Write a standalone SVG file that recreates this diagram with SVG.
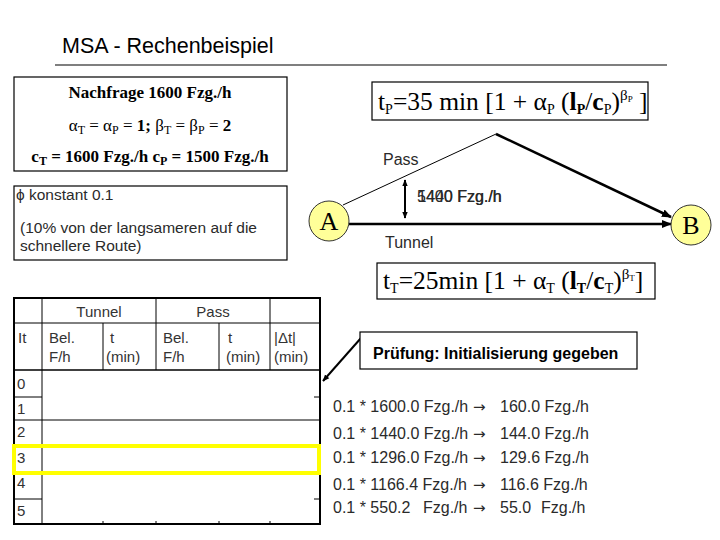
<svg xmlns="http://www.w3.org/2000/svg" width="720" height="540" viewBox="0 0 720 540">
<style>
.sans{font-family:"Liberation Sans",Arial,sans-serif;}
.serif{font-family:"Liberation Serif","Times New Roman",serif;}
.box{fill:#fff;stroke:#000;stroke-width:1.2;}
.gray{fill:#2a2a2a;}
.sub{font-size:12px;}
.fsub{font-size:14px;}
.tiny{font-size:9px;}
.node circle{fill:#ffff99;stroke:#333;stroke-width:1;}
.node text{font-family:"Liberation Serif","Times New Roman",serif;font-size:26px;text-anchor:middle;fill:#000;}
.grid{stroke:#000;stroke-width:1;}
.tt{font-family:"Liberation Sans",Arial,sans-serif;font-size:15px;fill:#333;}
.calc{font-family:"Liberation Sans",Arial,sans-serif;font-size:16px;fill:#2a2a2a;}
.arr{font-family:"DejaVu Sans",sans-serif;font-size:15px;}
</style>
<defs>
<marker id="ah" viewBox="0 0 10 10" refX="9" refY="5" markerWidth="10" markerHeight="10" markerUnits="userSpaceOnUse" orient="auto-start-reverse">
<path d="M0,1 L10,5 L0,9 z" fill="#000"/>
</marker>
<marker id="ahs" viewBox="0 0 10 10" refX="9" refY="5" markerWidth="7" markerHeight="7" markerUnits="userSpaceOnUse" orient="auto-start-reverse">
<path d="M0,1 L10,5 L0,9 z" fill="#000"/>
</marker>
</defs>
<rect width="720" height="540" fill="#fff"/>

<g id="title">
<text x="62" y="53" class="sans" font-size="21.5">MSA - Rechenbeispiel</text>
<line x1="55" y1="65" x2="667" y2="65" stroke="#000" stroke-width="1.2"/>
</g>

<g id="given">
<rect x="14" y="77" width="273" height="94" class="box"/>
<text x="150" y="98" class="serif" font-size="17" font-weight="bold" text-anchor="middle">Nachfrage 1600 Fzg./h</text>
<text x="150" y="131" class="serif" font-size="17" text-anchor="middle">α<tspan class="sub" dy="3">T</tspan><tspan dy="-3"> = α</tspan><tspan class="sub" dy="3">P</tspan><tspan dy="-3"> = </tspan><tspan font-weight="bold">1;</tspan><tspan>  β</tspan><tspan class="sub" dy="3">T</tspan><tspan dy="-3"> = β</tspan><tspan class="sub" dy="3">P</tspan><tspan dy="-3"> = </tspan><tspan font-weight="bold">2</tspan></text>
<text x="150" y="162" class="serif" font-size="17" font-weight="bold" text-anchor="middle">c<tspan class="sub" dy="3">T</tspan><tspan dy="-3"> = 1600 Fzg./h c</tspan><tspan class="sub" dy="3">P</tspan><tspan dy="-3"> = 1500 Fzg./h</tspan></text>
</g>

<g id="phi">
<rect x="14" y="186" width="273" height="74" class="box"/>
<text x="16" y="200" class="sans gray" font-size="15.5">ϕ konstant 0.1</text>
<text x="20" y="233" class="sans gray" font-size="15.5">(10% von der langsameren auf die</text>
<text x="20" y="251" class="sans gray" font-size="15.5">schnellere Route)</text>
</g>

<g id="formula-pass">
<rect x="372" y="82" width="276" height="38" class="box"/>
<text x="378" y="110" class="serif" font-size="25.5">t<tspan class="fsub" dy="4">P</tspan><tspan dy="-4">=35 min [1 + α</tspan><tspan class="fsub" dy="4">P</tspan><tspan dy="-4"> (</tspan><tspan font-weight="bold">l</tspan><tspan class="fsub" font-weight="bold" dy="4">P</tspan><tspan dy="-4">/</tspan><tspan font-weight="bold">c</tspan><tspan class="fsub" dy="4">P</tspan><tspan dy="-4">)</tspan><tspan font-size="15" dy="-10">β</tspan><tspan class="tiny" dy="2">P</tspan><tspan dy="8"> ]</tspan></text>
</g>

<g id="connectors">
<line x1="343" y1="205" x2="496" y2="134" stroke="#000" stroke-width="1"/>
<line x1="496" y1="134" x2="671" y2="217" stroke="#000" stroke-width="2.5" marker-end="url(#ah)"/>
<line x1="349" y1="224" x2="671" y2="224" stroke="#000" stroke-width="2.5" marker-end="url(#ah)"/>
<line x1="405" y1="180" x2="405" y2="218" stroke="#000" stroke-width="2" marker-start="url(#ahs)" marker-end="url(#ahs)"/>
<line x1="361" y1="338" x2="323" y2="381" stroke="#000" stroke-width="2" marker-end="url(#ahs)"/>
</g>

<g id="labels">
<text x="383" y="165" class="sans gray" font-size="16">Pass</text>
<text x="417" y="202" class="sans gray" font-size="16">5400 Fzg./h</text>
<text x="417.4" y="202" class="sans gray" font-size="16">1440 Fzg./h</text>
<text x="385" y="248" class="sans gray" font-size="16">Tunnel</text>
</g>

<g id="node-A" class="node">
<circle cx="329" cy="221" r="20"/>
<text x="329" y="230">A</text>
</g>
<g id="node-B" class="node">
<circle cx="691" cy="225" r="20"/>
<text x="691" y="234">B</text>
</g>

<g id="formula-tunnel">
<rect x="377" y="263" width="278" height="36" class="box"/>
<text x="383" y="289" class="serif" font-size="25.5">t<tspan class="fsub" dy="4">T</tspan><tspan dy="-4">=25min [1 + α</tspan><tspan class="fsub" dy="4">T</tspan><tspan dy="-4"> (</tspan><tspan font-weight="bold">l</tspan><tspan class="fsub" font-weight="bold" dy="4">T</tspan><tspan dy="-4">/</tspan><tspan font-weight="bold">c</tspan><tspan class="fsub" dy="4">T</tspan><tspan dy="-4">)</tspan><tspan font-size="15" dy="-10">β</tspan><tspan class="tiny" dy="2">T</tspan><tspan dy="8">]</tspan></text>
</g>

<g id="table">
<rect x="14" y="298" width="306" height="226" fill="#fff" stroke="#000" stroke-width="2"/>
<line class="grid" x1="42" y1="298" x2="42" y2="524"/>
<line class="grid" x1="156" y1="298" x2="156" y2="370"/>
<line class="grid" x1="270" y1="298" x2="270" y2="370"/>
<line class="grid" x1="103" y1="323" x2="103" y2="370"/>
<line class="grid" x1="219" y1="323" x2="219" y2="370"/>
<line class="grid" x1="14" y1="323" x2="320" y2="323"/>
<line x1="14" y1="370" x2="320" y2="370" stroke="#000" stroke-width="1.6"/>
<line class="grid" x1="14" y1="397" x2="42" y2="397"/>
<line class="grid" x1="314" y1="397" x2="320" y2="397"/>
<line class="grid" x1="14" y1="420" x2="320" y2="420"/>
<line class="grid" x1="14" y1="446" x2="320" y2="446"/>
<line class="grid" x1="14" y1="472" x2="320" y2="472"/>
<line class="grid" x1="14" y1="499" x2="42" y2="499"/>
<line class="grid" x1="314" y1="499" x2="320" y2="499"/>
<line class="grid" x1="103" y1="521" x2="103" y2="524"/>
<line class="grid" x1="156" y1="521" x2="156" y2="524"/>
<line class="grid" x1="219" y1="521" x2="219" y2="524"/>
<line class="grid" x1="270" y1="521" x2="270" y2="524"/>
<text x="99" y="317" class="tt" text-anchor="middle">Tunnel</text>
<text x="213" y="317" class="tt" text-anchor="middle">Pass</text>
<text x="18" y="343" class="tt">It</text>
<text x="49" y="343" class="tt">Bel.</text>
<text x="49" y="362" class="tt">F/h</text>
<text x="110" y="343" class="tt">t</text>
<text x="106" y="362" class="tt">(min)</text>
<text x="163" y="343" class="tt">Bel.</text>
<text x="163" y="362" class="tt">F/h</text>
<text x="228" y="343" class="tt">t</text>
<text x="226" y="362" class="tt">(min)</text>
<text x="274" y="343" class="tt">|Δt|</text>
<text x="274" y="362" class="tt">(min)</text>
<text x="17" y="389" class="tt">0</text>
<text x="17" y="414" class="tt">1</text>
<text x="17" y="437" class="tt">2</text>
<text x="17" y="463" class="tt">3</text>
<text x="17" y="488" class="tt">4</text>
<text x="17" y="516" class="tt">5</text>
<rect x="14" y="446" width="305" height="27" fill="none" stroke="#ffff00" stroke-width="4"/>
</g>

<g id="check">
<rect x="360" y="332" width="277" height="37" class="box"/>
<text x="373" y="359" class="sans" font-size="16" font-weight="bold">Prüfung: Initialisierung gegeben</text>
</g>

<g id="calc">
<text class="calc" y="412"><tspan x="333">0.1 * 1600.0 Fzg./h</tspan><tspan x="473" class="arr">→</tspan><tspan x="500">160.0 Fzg./h</tspan></text>
<text class="calc" y="439"><tspan x="333">0.1 * 1440.0 Fzg./h</tspan><tspan x="473" class="arr">→</tspan><tspan x="500">144.0 Fzg./h</tspan></text>
<text class="calc" y="463"><tspan x="333">0.1 * 1296.0 Fzg./h</tspan><tspan x="473" class="arr">→</tspan><tspan x="500">129.6 Fzg./h</tspan></text>
<text class="calc" y="490"><tspan x="333">0.1 * 1166.4 Fzg./h</tspan><tspan x="473" class="arr">→</tspan><tspan x="500">116.6 Fzg./h</tspan></text>
<text class="calc" y="513"><tspan x="333">0.1 * 550.2</tspan><tspan x="423">Fzg./h</tspan><tspan x="473" class="arr">→</tspan><tspan x="500">55.0</tspan><tspan x="541">Fzg./h</tspan></text>
</g>
</svg>
